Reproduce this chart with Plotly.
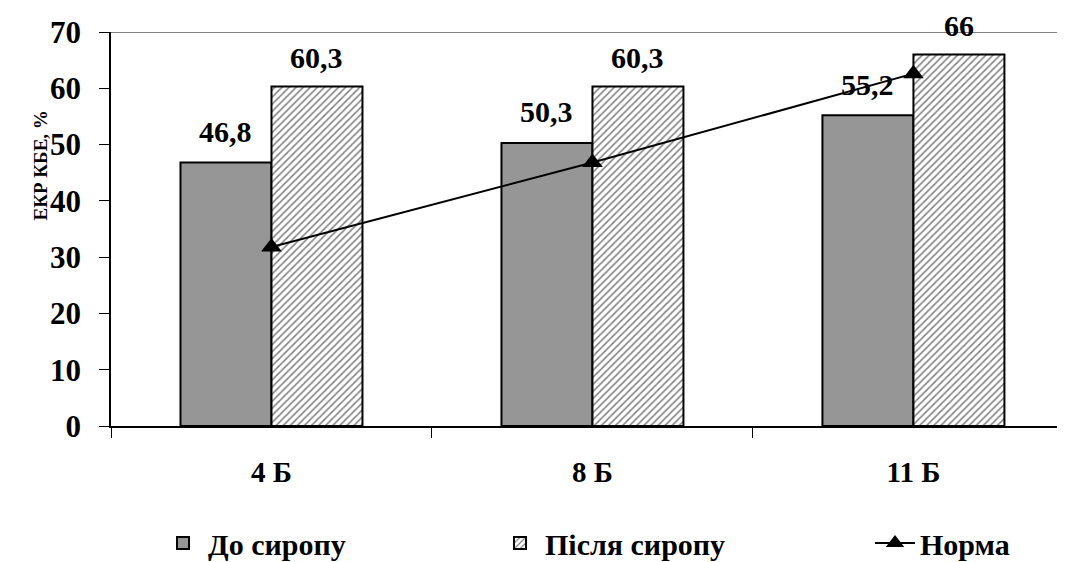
import plotly.graph_objects as go

categories = ["4 Б", "8 Б", "11 Б"]
before_vals = [46.8, 50.3, 55.2]
after_vals = [60.3, 60.3, 66.0]
norm_vals = [31.8, 46.8, 62.6]
before_labels = ["46,8", "50,3", "55,2"]
after_labels = ["60,3", "60,3", "66"]
series_names = ["До сиропу", "Після сиропу", "Норма"]
y_ticks = [0, 10, 20, 30, 40, 50, 60, 70]

FONT = "Liberation Serif, Times New Roman, serif"
W, H = 1057, 554  # page body has an 8px margin

fig = go.Figure()
fig.add_trace(go.Bar(
    x=categories, y=before_vals, name=series_names[0], legend="legend",
    marker=dict(color="#969696", line=dict(color="black", width=2)),
))
fig.add_trace(go.Bar(
    x=categories, y=after_vals, name=series_names[1], legend="legend2",
    marker=dict(color="white", line=dict(color="black", width=2),
                pattern=dict(shape="/", fgcolor="black", bgcolor="white",
                             size=5, solidity=0.3)),
))
fig.add_trace(go.Scatter(
    x=categories, y=norm_vals, name=series_names[2], mode="lines+markers",
    legend="legend3",
    line=dict(color="black", width=2),
    marker=dict(symbol="triangle-up", size=18, color="black"),
))

bargap = 0.433
half = 321 * (1 - bargap) / 4
lab_font = dict(family=FONT, size=30, color="black", weight="bold")
anns = []
for c, v, t in zip(categories, before_vals, before_labels):
    anns.append(dict(x=c, y=v, text=t, xshift=-half, yshift=31, showarrow=False,
                     yanchor="middle", font=lab_font))
for c, v, t in zip(categories, after_vals, after_labels):
    anns.append(dict(x=c, y=v, text=t, xshift=half, yshift=29, showarrow=False,
                     yanchor="middle", font=lab_font))
anns.append(dict(x=0.0, xref="paper", xshift=-83, y=0.66, yref="paper", text="ЕКР КБЕ, %",
                 textangle=-90, showarrow=False,
                 font=dict(family=FONT, size=19, color="black", weight="bold")))

leg_font = dict(family=FONT, size=30, color="black", weight="bold")
def leg(xpx):
    return dict(orientation="h", x=xpx / W, xref="container", xanchor="left",
                y=1 - 535 / H, yref="container", yanchor="middle", font=leg_font,
                bgcolor="rgba(0,0,0,0)", itemwidth=40)

fig.update_layout(
    width=W, height=H,
    margin=dict(l=103, r=2, t=24, b=136, autoexpand=False),
    paper_bgcolor="white", plot_bgcolor="white",
    barmode="group", bargap=bargap, bargroupgap=0,
    font=dict(family=FONT, color="black"),
    annotations=anns,
    showlegend=True,
    legend=leg(150),
    legend2=leg(487),
    legend3=leg(862),
    shapes=[dict(type="line", xref="paper", x0=0, x1=1, yref="y", y0=70, y1=70,
                 line=dict(color="#808080", width=2), layer="below")],
)
fig.update_xaxes(
    type="category", range=[-0.5, 2.466], showgrid=False, automargin=False,
    showline=True, linecolor="black", linewidth=1.5,
    ticks="outside", tickson="boundaries", ticklen=10, tickcolor="black", tickwidth=1,
    tickfont=dict(family=FONT, size=29, color="black", weight="bold"),
    ticklabelstandoff=19,
)
fig.update_yaxes(
    range=[0, 70], tickvals=y_ticks, showgrid=False, zeroline=False, automargin=False,
    showline=True, linecolor="black", linewidth=1.5,
    ticks="outside", ticklen=10, tickcolor="black", tickwidth=1,
    tickfont=dict(family=FONT, size=31, color="black", weight="bold"),
    ticklabelstandoff=12,
)

fig.write_html("out.html")
